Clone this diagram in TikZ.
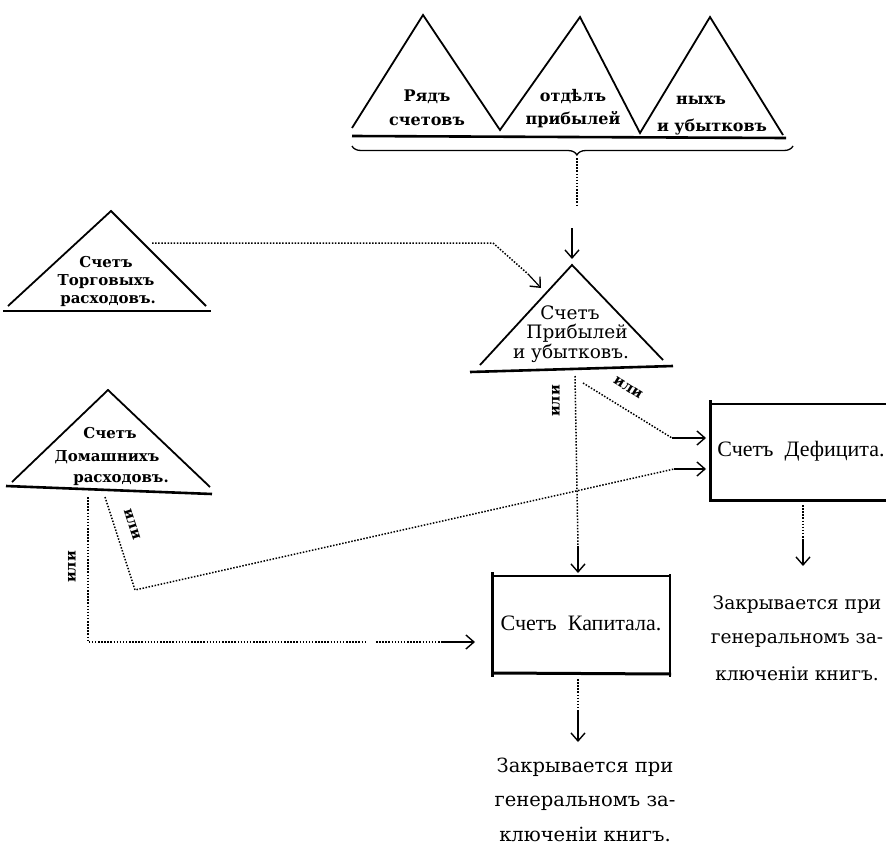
\documentclass[tikz,border=0pt]{standalone}
\usepackage{fontspec}
\setmainfont{Liberation Serif}
\newfontfamily\dv{DejaVu Serif}
\usetikzlibrary{arrows.meta,decorations.pathreplacing}
\begin{document}
\begin{tikzpicture}[x=1pt,y=-1pt,
  side/.style={line width=1.8pt},
  basel/.style={line width=2.6pt},
  dots/.style={line width=1.5pt, dash pattern=on 1.5pt off 1.6pt},
  arr/.style={line width=1.2pt,-{Straight Barb[length=8pt,width=14pt,line width=1.4pt]}},
  ttxt/.style={font=\dv\bfseries\fontsize{16}{18}\selectfont, inner sep=0pt},
  gtxt/.style={font=\dv\bfseries\fontsize{15}{17}\selectfont, inner sep=0pt},
  mtxt/.style={font=\dv\fontsize{18.5}{20}\selectfont, inner sep=0pt},
  btxt/.style={font=\fontsize{22}{24}\selectfont, inner sep=0pt},
  ctxt/.style={font=\dv\fontsize{19.5}{21}\selectfont, inner sep=0pt},
  dtxt/.style={font=\dv\fontsize{18.6}{21}\selectfont, inner sep=0pt},
  ili/.style={font=\dv\bfseries\fontsize{14.5}{14.5}\selectfont, inner sep=0pt}
]
\useasboundingbox (0,0) rectangle (886,846);

% ---------- top triangles ----------
\coordinate (t1a) at (352,128); \coordinate (t1p) at (423,15); \coordinate (t1b) at (500,130);
\coordinate (t2p) at (580,17); \coordinate (t2b) at (640,133);
\coordinate (t3p) at (710,17); \coordinate (t3b) at (783,135);
\draw[side] (t1a)--(t1p)--(t1b)--(t2p)--(t2b)--(t3p)--(t3b);
\coordinate (bl) at (352,136); \coordinate (br) at (786,138);
\draw[basel] (bl)--(br);
\coordinate (brL) at (352,146); \coordinate (brR) at (793,146);
\draw[line width=1.3pt, decorate, decoration={brace,mirror,amplitude=9pt,aspect=0.51}] (brL)--(brR);
\coordinate (brT) at (577,158);

\node[ttxt] (r1) at (427,97) {Рядъ};
\node[ttxt] (r2) at (427,121) {счетовъ};
\node[ttxt] (o1) at (573,97) {отдѣлъ};
\node[ttxt] (o2) at (573,120) {прибылей};
\node[ttxt] (n1) at (701,100) {ныхъ};
\node[ttxt] (n2) at (712,127) {и убытковъ};

% ---------- Торговых ----------
\coordinate (gA) at (8,306); \coordinate (gP) at (111,211); \coordinate (gB) at (206,306);
\draw[side] (gA)--(gP)--(gB);
\coordinate (gL) at (3,311); \coordinate (gR) at (211,311);
\draw[basel] (gL)--(gR);
\node[gtxt] (g1) at (106,262) {Счетъ};
\node[gtxt] (g2) at (106,282) {Торговыхъ};
\node[gtxt] (g3) at (108,301) {расходовъ.};
\coordinate (gOut) at (152,243);
\coordinate (gK) at (493,243);
\coordinate (gArr) at (528,274);

% ---------- Прибылей и убытков ----------
\coordinate (mA) at (480,365); \coordinate (mP) at (572,265); \coordinate (mB) at (663,360);
\draw[side] (mA)--(mP)--(mB);
\coordinate (mL) at (470,372); \coordinate (mR) at (673,366);
\draw[basel] (mL)--(mR);
\node[mtxt] (m1) at (570,313) {Счетъ};
\node[mtxt] (m2) at (577,333) {Прибылей};
\node[mtxt] (m3) at (571,353) {и убытковъ.};
\coordinate (mIn) at (541,288);
\coordinate (mTopA) at (572,228);
\coordinate (mTopB) at (572,259);
\coordinate (mDot) at (577,205);

% ---------- Домашних ----------
\coordinate (dA) at (12,482); \coordinate (dP) at (108,390); \coordinate (dB) at (210,487);
\draw[side] (dA)--(dP)--(dB);
\coordinate (dL) at (6,486); \coordinate (dR) at (212,494);
\draw[basel] (dL)--(dR);
\node[gtxt] (d1) at (110,433) {Счетъ};
\node[gtxt] (d2) at (107,457) {Домашнихъ};
\node[gtxt] (d3) at (121,480) {расходовъ.};

% ---------- Дефицит box ----------
\coordinate (fTL) at (710,400); \coordinate (fBL) at (710,502);
\coordinate (fT1) at (712,404); \coordinate (fT2) at (886,404);
\coordinate (fB1) at (712,500); \coordinate (fB2) at (886,500);
\draw[line width=3pt] (fTL)--(fBL);
\draw[line width=2.4pt] (fT1)--(fT2);
\draw[line width=3pt] (fB1)--(fB2);
\node[btxt] (def) at (801,451) {Счетъ\ \ Дефицита.};
\coordinate (fIn1) at (706,438);
\coordinate (fIn2) at (706,469);
\coordinate (fOut) at (803,505);

% ---------- Капитал box ----------
\coordinate (cTL) at (492,572); \coordinate (cBL) at (492,677);
\coordinate (cT1) at (494,576); \coordinate (cT2) at (670,576);
\coordinate (cB1) at (494,673); \coordinate (cB2) at (671,674);
\coordinate (cRT) at (670,574); \coordinate (cRB) at (670,677);
\draw[line width=3pt] (cTL)--(cBL);
\draw[line width=2.2pt] (cT1)--(cT2);
\draw[line width=3pt] (cB1)--(cB2);
\draw[line width=2pt] (cRT)--(cRB);
\node[btxt] (cap) at (581,623) {Счетъ\ \ Капитала.};
\coordinate (cIn) at (578,573);
\coordinate (cLeft) at (475,642);
\coordinate (cOut) at (578,679);

% ---------- closing texts ----------
\node[ctxt] (z1) at (585,767) {Закрывается при};
\node[ctxt] (z2) at (585,803) {генеральномъ за-};
\node[ctxt] (z3) at (585,834) {ключенiи книгъ.};
\node[dtxt] (y1) at (797,605) {Закрывается при};
\node[dtxt] (y2) at (797,640) {генеральномъ за-};
\node[dtxt] (y3) at (797,674) {ключенiи книгъ.};

% ---------- connectors ----------
% brace -> profit & loss
\draw[dots] (brT)--(mDot);
\draw[arr] (mTopA)--(mTopB);
% trade expenses -> profit & loss
\draw[dots] (gOut)--(gK)--(gArr);
\draw[arr] (gArr)--(mIn);
% profit & loss -> capital
\coordinate (mOut1) at (575,376);
\coordinate (cArrA) at (578,546);
\draw[dots] (mOut1)--(cArrA);
\draw[arr] (cArrA)--(cIn);
\node[ili, rotate=90] (ili1) at (556,401) {или};
% profit & loss -> deficit
\coordinate (mOut2) at (583,383);
\coordinate (fK1) at (672,438);
\draw[dots] (mOut2)--(fK1);
\draw[arr] (fK1)--(fIn1);
\node[ili, rotate=-32] (ili2) at (628,388) {или};
% household -> deficit
\coordinate (dOut2) at (105,497);
\coordinate (dK) at (135,590);
\coordinate (fK2) at (674,469);
\draw[dots] (dOut2)--(dK)--(fK2);
\draw[arr] (fK2)--(fIn2);
\node[ili, rotate=-72] (ili3) at (132,524) {или};
% household -> capital
\coordinate (dOut1) at (88,497);
\coordinate (dC) at (88,642);
\coordinate (gap1) at (366,642);
\coordinate (gap2) at (376,642);
\coordinate (cK) at (441,642);
\draw[dots] (dOut1)--(dC)--(gap1);
\draw[dots] (gap2)--(cK);
\draw[arr] (cK)--(cLeft);
\node[ili, rotate=90] (ili4) at (72,567) {или};
% capital closes
\coordinate (cDA) at (578,712);
\coordinate (cDB) at (578,742);
\draw[dots] (cOut)--(cDA);
\draw[arr] (cDA)--(cDB);
% deficit closes
\coordinate (fDA) at (803,540);
\coordinate (fDB) at (803,566);
\draw[dots] (fOut)--(fDA);
\draw[arr] (fDA)--(fDB);
\end{tikzpicture}
\end{document}
